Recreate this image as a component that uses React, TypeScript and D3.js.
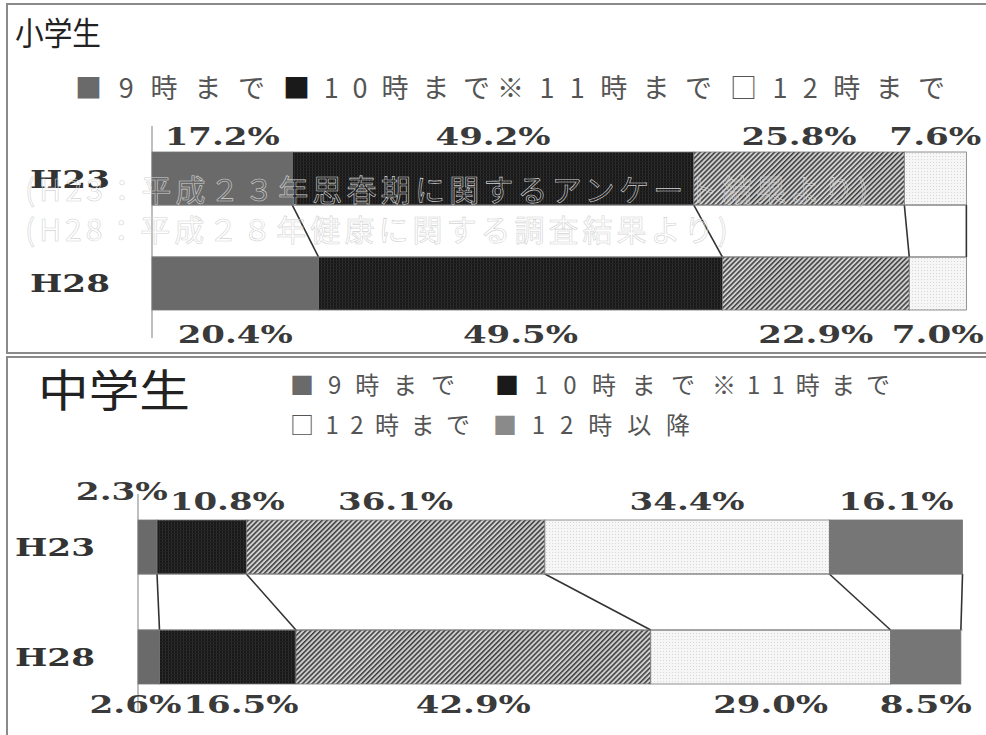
import React from "react";
import * as d3 from "d3";

const years = ["H23", "H28"];
const elemCategories = ["9時まで", "10時まで", "11時まで", "12時まで"];
const elemH23 = [17.2, 49.2, 25.8, 7.6];
const elemH28 = [20.4, 49.5, 22.9, 7.0];
const juniorCategories = ["9時まで", "10時まで", "11時まで", "12時まで", "12時以降"];
const juniorH23 = [2.3, 10.8, 36.1, 34.4, 16.1];
const juniorH28 = [2.6, 16.5, 42.9, 29.0, 8.5];
const legendMarks = ["■", "■", "※", "□", "■"];
const panelTitles = ["小学生", "中学生"];
const sourceNotes = [
  "(H23：平成２３年思春期に関するアンケート結果より)",
  "(H28：平成２８年健康に関する調査結果より)",
];

const FILLS = ["#6a6a6a", "url(#darkTex)", "url(#hatchTex)", "url(#lightTex)", "#767676"];
const MARK_COLORS = ["#6a6a6a", "#1a1a1a", "#555", "#555", "#8a8a8a"];
const SERIF = "'DejaVu Serif', 'Liberation Serif', serif";
const CJK = "'Noto Sans CJK JP', sans-serif";

type PanelProps = {
  cats: string[];
  rows: number[][];
  x0: number;
  x1: number;
  yTop: number;
  yBot: number;
  pad: number;
  rowLabelX: number;
  rowLabelW: number;
  topLabelDy: number;
  botLabelDy: number;
};

function resolve(items: { c: number; w: number }[]) {
  const out = items.map((d) => ({ ...d, c0: d.c }));
  for (let iter = 0; iter < 6; iter++) {
    for (let i = 0; i < out.length - 1; i++) {
      const a = out[i], b = out[i + 1];
      const overlap = a.c + a.w / 2 + 2 - (b.c - b.w / 2);
      if (overlap > 0) {
        a.c -= overlap / 2;
        b.c += overlap / 2;
      }
    }
  }
  return out;
}

function x1Fix(x: d3.ScaleLinear<number, number>, series: any[]) {
  const last = series[series.length - 1];
  return Math.max(x(last[0][1]), x(last[1][1]));
}

function StackPanel(p: PanelProps) {
  const x = d3.scaleLinear().domain([0, 100]).range([p.x0, p.x1]);
  const y = d3.scaleBand<string>().domain(years).range([p.yTop, p.yBot]).paddingInner(p.pad);
  const data = years.map((yr, i) => {
    const o: any = { year: yr };
    p.cats.forEach((c, j) => (o[c] = p.rows[i][j]));
    return o;
  });
  const series = d3.stack<any>().keys(p.cats)(data);
  const bw = y.bandwidth();
  const yA = y(years[0])!;
  const yB = y(years[1])!;

  const labelSets = years.map((_, i) => {
    const items = series.map((s) => {
      const txt = p.rows[i][s.index].toFixed(1) + "%";
      return { c: (x(s[i][0]) + x(s[i][1])) / 2, w: txt.length * 23, txt };
    });
    const res = resolve(items);
    return res.map((r, k) => ({ ...r, txt: items[k].txt }));
  });

  return (
    <g>
      <line x1={p.x0} x2={p.x0} y1={p.yTop - 26} y2={p.yBot + 28} stroke="#aaa" strokeWidth={1.5} />
      {series.map((s, j) => (
        <g key={j}>
          {years.map((yr, i) => (
            <rect
              key={yr}
              x={x(s[i][0])}
              y={y(yr)}
              width={x(s[i][1]) - x(s[i][0])}
              height={bw}
              fill={FILLS[j]}
              stroke="#777"
              strokeWidth={0.8}
            />
          ))}
          <line x1={x(s[0][1])} y1={yA + bw} x2={x(s[1][1])} y2={yB} stroke="#333" strokeWidth={1.6} />
        </g>
      ))}
      <line x1={p.x0} x2={x1Fix(x, series)} y1={yA + bw} y2={yA + bw} stroke="#777" strokeWidth={0.8} />
      <line x1={p.x0} x2={x1Fix(x, series)} y1={yB} y2={yB} stroke="#777" strokeWidth={0.8} />
      {years.map((yr) => (
        <text
          key={yr}
          x={p.rowLabelX}
          y={y(yr)! + bw / 2 + 9}
          fontFamily={SERIF}
          fontWeight="bold"
          fontSize={25}
          fill="#333"
          textLength={p.rowLabelW}
          lengthAdjust="spacingAndGlyphs"
        >
          {yr}
        </text>
      ))}
      {labelSets.map((set, i) =>
        set.map((l, k) => {
          const raised = i === 0 && l.c0 - l.c > 15 ? -10 : 0;
          return (
            <text
              key={i + "-" + k}
              x={l.c - l.w / 2}
              y={(i === 0 ? yA + p.topLabelDy : yB + bw + p.botLabelDy) + raised}
              fontFamily={SERIF}
              fontWeight="bold"
              fontSize={24}
              fill="#3a3a3a"
              textLength={l.w}
              lengthAdjust="spacingAndGlyphs"
            >
              {l.txt}
            </text>
          );
        })
      )}
    </g>
  );
}

type LegendItem = { idx: number; label: string; x: number; y: number; w: number };

function Legend({ items, size }: { items: LegendItem[]; size: number }) {
  return (
    <g>
      {items.map((it) => (
        <text
          key={it.label + it.idx}
          x={it.x}
          y={it.y}
          fontFamily={CJK}
          fontSize={size}
          fill="#555"
          textLength={it.w}
          lengthAdjust="spacing"
        >
          <tspan fill={MARK_COLORS[it.idx]}>{legendMarks[it.idx]}</tspan>
          {it.label}
        </text>
      ))}
    </g>
  );
}

export default function App() {
  const topLegend: LegendItem[] = elemCategories.map((c, i) => ({
    idx: i,
    label: c,
    x: [75, 283, 497, 730][i],
    y: 98,
    w: [190, 207, 215, 215][i],
  }));
  const botLegend: LegendItem[] = juniorCategories.map((c, i) => ({
    idx: i,
    label: c,
    x: [290, 495, 712, 290, 493][i],
    y: [394, 394, 394, 434, 434][i],
    w: [165, 200, 178, 180, 197][i],
  }));

  return (
    <div style={{ position: "absolute", left: 0, top: 0 }}>
      <svg width={986} height={735} style={{ display: "block", background: "#fff" }}>
        <defs>
          <pattern id="darkTex" width={3} height={3} patternUnits="userSpaceOnUse">
            <rect width={3} height={3} fill="#181818" />
            <rect width={1} height={3} fill="#2e2e2e" />
            <rect width={3} height={1} y={2} fill="#222" />
          </pattern>
          <pattern id="hatchTex" width={3.5} height={3.5} patternUnits="userSpaceOnUse" patternTransform="rotate(45)">
            <rect width={3.5} height={3.5} fill="#d0d0d0" />
            <line x1={0.8} y1={0} x2={0.8} y2={3.5} stroke="#3a3a3a" strokeWidth={1.5} />
          </pattern>
          <pattern id="lightTex" width={3} height={3} patternUnits="userSpaceOnUse">
            <rect width={3} height={3} fill="#f6f6f6" />
            <rect width={1} height={1} fill="#d8d8d8" />
          </pattern>
        </defs>

        <rect x={7} y={4} width={990} height={349} fill="#fff" stroke="#8a8a8a" strokeWidth={2} />
        <rect x={7} y={357} width={990} height={400} fill="#fff" stroke="#8a8a8a" strokeWidth={2} />

        <text x={15} y={45} fontFamily={CJK} fontSize={32} fill="#222" textLength={86} lengthAdjust="spacingAndGlyphs">
          {panelTitles[0]}
        </text>
        <Legend items={topLegend} size={27} />
        <StackPanel
          cats={elemCategories}
          rows={[elemH23, elemH28]}
          x0={152}
          x1={968}
          yTop={152}
          yBot={310}
          pad={0.495}
          rowLabelX={30}
          rowLabelW={80}
          topLabelDy={-7}
          botLabelDy={33}
        />
        {sourceNotes.map((t, i) => (
          <text
            key={i}
            x={25}
            y={[201, 241][i]}
            fontFamily={CJK}
            fontSize={30}
            fill="none"
            stroke="#d4d4d4"
            strokeWidth={0.6}
            textLength={[843, 703][i]}
            lengthAdjust="spacing"
          >
            {t}
          </text>
        ))}

        <text x={38} y={407} fontFamily={CJK} fontSize={44} fill="#222" textLength={152} lengthAdjust="spacingAndGlyphs">
          {panelTitles[1]}
        </text>
        <Legend items={botLegend} size={24} />
        <StackPanel
          cats={juniorCategories}
          rows={[juniorH23, juniorH28]}
          x0={138}
          x1={965}
          yTop={520}
          yBot={684}
          pad={0.509}
          rowLabelX={15}
          rowLabelW={80}
          topLabelDy={-10}
          botLabelDy={29}
        />
      </svg>
    </div>
  );
}
